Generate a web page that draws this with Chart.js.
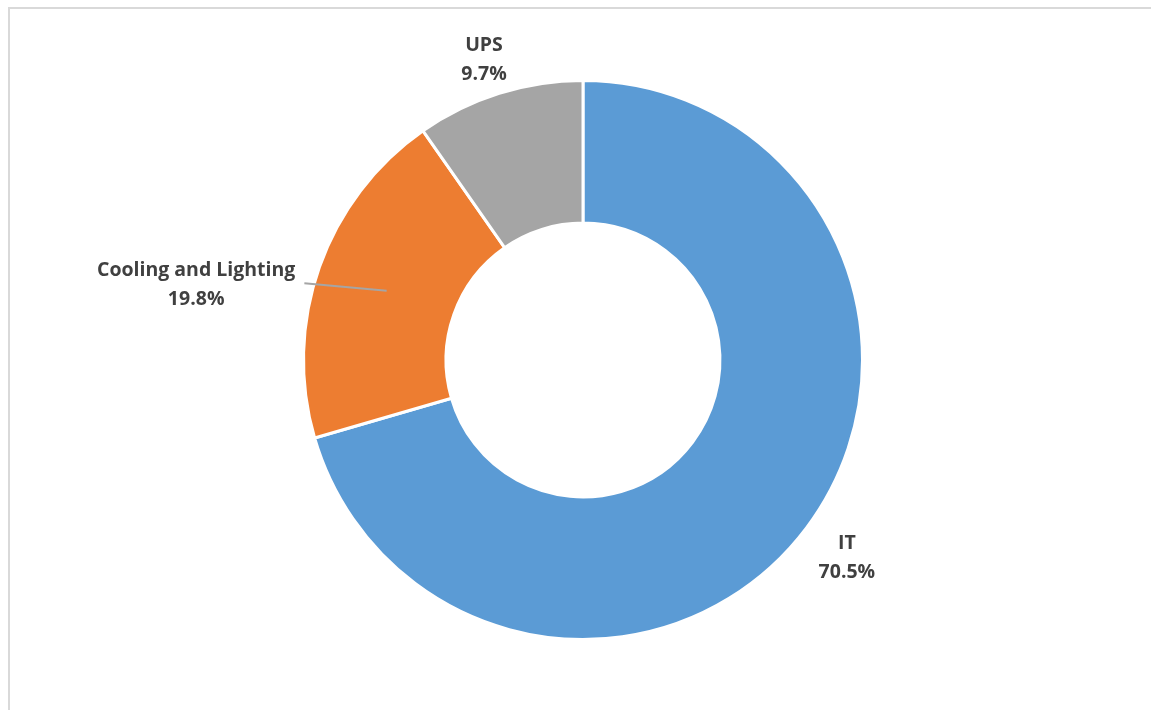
<!DOCTYPE html>
<html>
<head>
  <title>Energy share</title>
  <script src="https://cdn.jsdelivr.net/npm/chart.js"></script>
  <style>
    body {
      margin: 0;
      background-color: #fff;
      overflow: hidden;
    }

    .frame {
      position: absolute;
      left: 8px;
      top: 7px;
      width: 1200px;
      height: 760px;
      border-top: 2px solid #d9d9d9;
      border-left: 2px solid #d9d9d9;
    }

    #wrap {
      position: absolute;
      left: 0;
      top: 0;
      width: 1151px;
      height: 710px;
    }
  </style>
</head>
<body>
  <div class="frame"></div>
  <div id="wrap">
    <canvas id="shareChart" width="1151" height="710"></canvas>
  </div>

  <script>
    const categories = ['IT', 'Cooling and Lighting', 'UPS'];
    const shares = [70.5, 19.8, 9.7];
    const sliceColors = ['#5B9BD5', '#ED7D31', '#A5A5A5'];

    // where each label sits: distance from centre and angle tweak (degrees)
    const labelRadius = [330, 394, 316];
    const labelAngleShift = [0, -8.5, -0.8];
    const leaderLine = [false, true, false];

    const labelPlugin = {
      id: 'sliceLabels',
      afterDatasetsDraw(chart) {
        const ctx = chart.ctx;
        const meta = chart.getDatasetMeta(0);
        ctx.save();
        ctx.font = 'bold 19.5px "Open Sans"';
        ctx.fillStyle = '#404040';
        ctx.textAlign = 'center';
        ctx.textBaseline = 'middle';
        meta.data.forEach((arc, i) => {
          const p = arc.getProps(['x', 'y', 'startAngle', 'endAngle']);
          const mid = (p.startAngle + p.endAngle) / 2 + labelAngleShift[i] * Math.PI / 180;
          const lx = p.x + Math.cos(mid) * labelRadius[i];
          const ly = p.y + Math.sin(mid) * labelRadius[i];
          const line1 = categories[i];
          const line2 = shares[i].toFixed(1) + '%';
          if (leaderLine[i]) {
            const c = arc.tooltipPosition();
            const w = ctx.measureText(line1).width;
            ctx.strokeStyle = '#A5A5A5';
            ctx.lineWidth = 2;
            ctx.beginPath();
            ctx.moveTo(c.x, c.y);
            ctx.lineTo(lx + w / 2 + 9, ly - 2);
            ctx.stroke();
          }
          ctx.fillText(line1, lx, ly - 14.5);
          ctx.fillText(line2, lx, ly + 14.5);
        });
        ctx.restore();
      }
    };

    new Chart(document.getElementById('shareChart'), {
      type: 'doughnut',
      data: {
        labels: categories,
        datasets: [{
          data: shares,
          backgroundColor: sliceColors,
          borderColor: '#ffffff',
          borderWidth: 3,
          hoverOffset: 0
        }]
      },
      options: {
        responsive: false,
        animation: false,
        cutout: '49%',
        layout: {
          padding: { left: 302, right: 287, top: 79, bottom: 69 }
        },
        plugins: {
          legend: { display: false },
          tooltip: { enabled: false }
        }
      },
      plugins: [labelPlugin]
    });
  </script>
</body>
</html>
